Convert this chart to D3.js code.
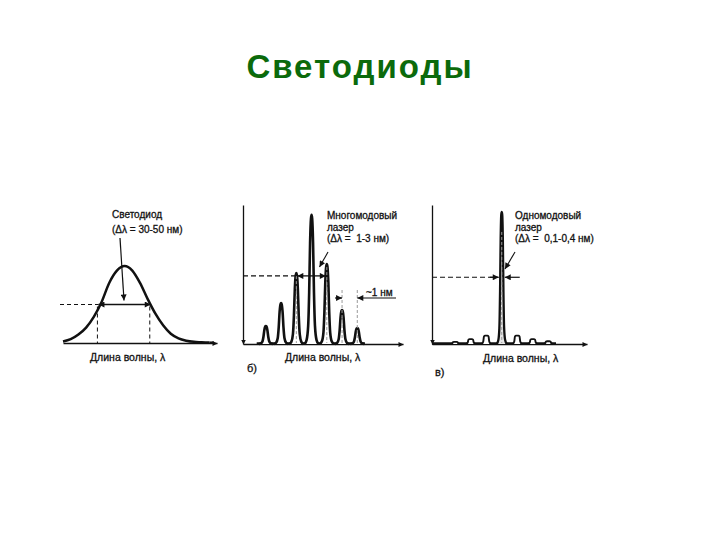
<!DOCTYPE html>
<html><head><meta charset="utf-8">
<script src="https://cdn.jsdelivr.net/npm/d3@7"></script>
<style>body{margin:0;background:#fff}svg{display:block}text{font-family:"Liberation Sans",Arial,sans-serif;white-space:pre}</style>
</head><body><svg id="c" width="720" height="540"></svg>
<script>
// ---- data ----
const titleText = "Светодиоды";
// panel а: LED spectrum (wavelength units, relative intensity)
const ledX = [0, 0.5, 1, 1.5, 2, 2.5, 3, 3.5, 4, 4.5, 5, 5.5, 6, 6.5, 7, 7.5, 8, 8.5, 9, 9.5];
const ledY = [0.02, 0.05, 0.11, 0.2, 0.34, 0.53, 0.78, 0.94, 1.0, 0.94, 0.78, 0.57, 0.38, 0.23, 0.12, 0.06, 0.03, 0.015, 0.01, 0.005];
const ledHalf = [2.3, 5.7];       // half-max crossings
const ledHalfLevel = 0.5;
// panel б: multimode laser peaks
const mmPeakX = [1.5, 2.5, 3.5, 4.5, 5.5, 6.5, 7.5];
const mmPeakY = [0.13, 0.295, 0.51, 0.93, 0.575, 0.245, 0.115];
const mmHalfLevel = 0.49;
const mmWidth = [3.5, 5.5];      // Δλ between these centers
const mmSpacingPair = [6.5, 7.5];
// panel в: single mode laser peaks
const smPeakX = [1.5, 2.5, 3.5, 4.5, 5.5, 6.5, 7.5];
const smPeakY = [0.015, 0.035, 0.06, 0.95, 0.06, 0.035, 0.02];
const smHalfLevel = 0.48;
// labels
const ledLabel = ["Светодиод", "(Δλ = 30-50 нм)"];
const mmLabel = ["Многомодовый", "лазер", "(Δλ =  1-3 нм)"];
const smLabel = ["Одномодовый", "лазер", "(Δλ =  0,1-0,4 нм)"];
const axisLabel = "Длина волны, λ";
const panelLetters = ["б)", "в)"];
const spacingLabel = "~1 нм";

// ---- drawing ----
const svg = d3.select("#c");
const defs = svg.append("defs");
defs.append("marker").attr("id","ah").attr("viewBox","0 0 10 10").attr("refX",10).attr("refY",5)
  .attr("markerWidth",7).attr("markerHeight",6).attr("markerUnits","userSpaceOnUse").attr("orient","auto-start-reverse")
  .append("path").attr("d","M0,0L10,5L0,10Z").attr("fill","#111");
defs.append("marker").attr("id","axah").attr("viewBox","0 0 10 10").attr("refX",10).attr("refY",5)
  .attr("markerWidth",7).attr("markerHeight",5).attr("markerUnits","userSpaceOnUse").attr("orient","auto")
  .append("path").attr("d","M0,0L10,5L0,10Z").attr("fill","#111");
defs.append("marker").attr("id","axahS").attr("viewBox","0 0 10 10").attr("refX",10).attr("refY",5)
  .attr("markerWidth",5).attr("markerHeight",7).attr("markerUnits","userSpaceOnUse").attr("orient","auto-start-reverse")
  .append("path").attr("d","M0,0L10,5L0,10Z").attr("fill","#111");

svg.append("text").attr("x",360).attr("y",78).attr("text-anchor","middle")
  .attr("font-size",33).attr("font-weight","bold").attr("fill","#0b6a0b").attr("letter-spacing",2)
  .text(titleText);

const ink = "#111";
function axisX(x, y0){
  const g = svg.append("g").attr("transform",`translate(0,${y0})`)
    .call(d3.axisBottom(x).ticks(0).tickSizeOuter(0));
  g.select(".domain").attr("stroke",ink).attr("stroke-width",1.3).attr("marker-end","url(#axah)");
}
function axisY(y, x0){
  const g = svg.append("g").attr("transform",`translate(${x0},0)`)
    .call(d3.axisLeft(y).ticks(0).tickSizeOuter(0));
  g.select(".domain").attr("stroke",ink).attr("stroke-width",1.3).attr("marker-start","url(#axahS)");
}

function seg(x1,y1,x2,y2,opt={}){
  const l = svg.append("line").attr("x1",x1).attr("y1",y1).attr("x2",x2).attr("y2",y2)
    .attr("stroke",opt.color||ink).attr("stroke-width",opt.w||1.2);
  if(opt.dash) l.attr("stroke-dasharray",opt.dash);
  if(opt.start) l.attr("marker-start","url(#ah)");
  if(opt.end) l.attr("marker-end","url(#ah)");
  return l;
}
function txt(x, y, size, s){
  return svg.append("text").attr("x",x).attr("y",y).attr("font-size",size).attr("fill",ink)
    .attr("stroke",ink).attr("stroke-width",0.3).text(s);
}
function label(lines, x, y0, dy, size){
  lines.forEach((s,i)=> txt(x, y0 + i*dy, size, s));
}

// ===== Panel а =====
const xA = d3.scaleLinear([0,10],[63,217]);
const yA = d3.scaleLinear([0,1],[343,266]);
axisX(xA, yA(0));
svg.append("path").datum(ledX.map((v,i)=>[v, ledY[i]]))
  .attr("d", d3.line().x(d=>xA(d[0])).y(d=>yA(d[1])).curve(d3.curveMonotoneX))
  .attr("fill","none").attr("stroke",ink).attr("stroke-width",2.5);
seg(xA(ledX[ledX.length-1]), yA(0)-0.3, xA(9.8), yA(0)-0.3, {w:2.5});
seg(60, yA(ledHalfLevel), xA(ledHalf[0]), yA(ledHalfLevel), {dash:"4,3", w:1});
seg(xA(ledHalf[0]), yA(ledHalfLevel), xA(ledHalf[1]), yA(ledHalfLevel), {start:true, end:true, w:1.3});
ledHalf.forEach(v=> seg(xA(v)-1, yA(ledHalfLevel)+2, xA(v)-1, yA(0), {dash:"4,3", w:1}));
seg(120, 238, 124, yA(ledHalfLevel)-4, {end:true, w:1.2});
label(ledLabel, 112, 218, 15, 10);
txt(90, 361, 10.5, axisLabel);

// peak templates (pixel offsets, fraction of height)
const tmplNarrow = [[-7,0],[-5,0.03],[-3.4,0.14],[-2.4,0.4],[-1.5,0.78],[-0.6,0.97],[0,1],[0.6,0.97],[1.5,0.78],[2.4,0.4],[3.4,0.14],[5,0.03],[7,0]];
const tmplSpike = [[-5,0],[-3.4,0.03],[-2.4,0.12],[-1.7,0.4],[-1.1,0.8],[-0.5,0.98],[0,1],[0.5,0.98],[1.1,0.8],[1.7,0.4],[2.4,0.12],[3.4,0.03],[5,0]];
const tmplBump = [[-4.5,0],[-3,0.3],[-2.3,0.9],[-1.2,1],[1.2,1],[2.3,0.9],[3,0.3],[4.5,0]];
const peakLine = d3.line().curve(d3.curveMonotoneX);
function drawPeaks(xs, ys, x, y, tmpl, fill, sw){
  xs.forEach((px,i)=>{
    const cx = x(px), h = y(0)-y(ys[i]);
    const pts = tmpl.map(([dx,f])=>[cx+dx, y(0)-f*h]);
    svg.append("path").attr("d", peakLine(pts)).attr("fill",fill).attr("stroke",ink)
      .attr("stroke-width",sw).attr("stroke-linejoin","round");
  });
}

// ===== Panel б =====
const xB = d3.scaleLinear([0,10.5],[243,403]);
const yB = d3.scaleLinear([0,1],[344,205]);
axisX(xB, yB(0));
axisY(yB, xB(0));
seg(xB(0.9), yB(0)-0.4, xB(8.0), yB(0)-0.4, {w:2.5});
drawPeaks(mmPeakX, mmPeakY, xB, yB, tmplNarrow, "#fff", 2.6);
[2,4].forEach(i=> seg(xB(mmPeakX[i]), yB(mmPeakY[i])+3, xB(mmPeakX[i]), yB(0)-1, {color:"#999", dash:"3,2", w:1}));
[5,6].forEach(i=> seg(xB(mmPeakX[i]), 290, xB(mmPeakX[i]), yB(0)-1, {color:"#999", dash:"3,2", w:1}));
seg(xB(0), yB(mmHalfLevel), xB(mmWidth[0]), yB(mmHalfLevel), {dash:"5,3", w:1.1});
seg(xB(mmWidth[0])+1, yB(mmHalfLevel), xB(mmWidth[1])-1, yB(mmHalfLevel), {start:true, end:true, w:1.3});
seg(328, 252, 319.5, 267, {end:true, w:1.1});
label(mmLabel, 327, 219, 11.5, 10);
seg(xB(mmSpacingPair[0])-7, 298, xB(mmSpacingPair[0]), 298, {end:true, w:1.2});
seg(396, 298, xB(mmSpacingPair[1]), 298, {end:true, w:1.2});
txt(366, 296, 10, spacingLabel);
txt(285, 361, 10.5, axisLabel);
txt(247, 372, 11, panelLetters[0]);

// ===== Panel в =====
const xC = d3.scaleLinear([0,10],[432,587]);
const yC = d3.scaleLinear([0,1],[344,205]);
axisX(xC, yC(0));
axisY(yC, xC(0));
seg(xC(0), yC(0)-0.4, xC(8.0), yC(0)-0.4, {w:2.5});
const mainIdx = smPeakY.indexOf(d3.max(smPeakY));
drawPeaks(smPeakX.filter((_,i)=>i!==mainIdx), smPeakY.filter((_,i)=>i!==mainIdx), xC, yC, tmplBump, "#fff", 1.9);
drawPeaks([smPeakX[mainIdx]], [smPeakY[mainIdx]], xC, yC, tmplSpike, "#e6e6e6", 2.3);
seg(xC(smPeakX[mainIdx]), yC(smPeakY[mainIdx])+20, xC(smPeakX[mainIdx]), yC(0)-1, {color:"#999", dash:"3,2", w:1});
const mx = xC(smPeakX[mainIdx]);
seg(xC(0), yC(smHalfLevel), mx-4, yC(smHalfLevel), {dash:"5,3", w:1.1});
seg(mx-12, yC(smHalfLevel), mx-3, yC(smHalfLevel), {end:true, w:1.2});
seg(mx+18, yC(smHalfLevel), mx+3, yC(smHalfLevel), {end:true, w:1.2});
seg(515, 252, 505, 269, {end:true, w:1.1});
label(smLabel, 515, 219, 11.5, 10);
txt(483, 362, 10.5, axisLabel);
txt(435, 376, 11, panelLetters[1]);
</script></body></html>
